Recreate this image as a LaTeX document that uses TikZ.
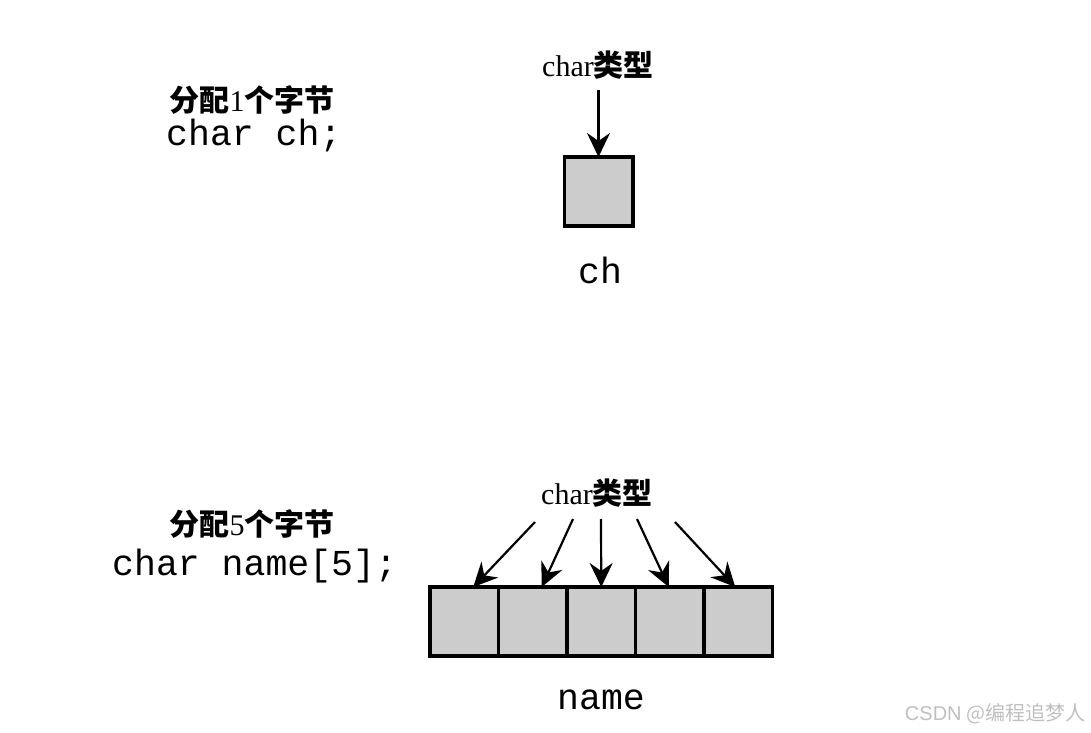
\documentclass[tikz,border=0pt]{standalone}
\usepackage{fontspec}
\usetikzlibrary{arrows.meta}
\setmainfont{Liberation Serif}
\setmonofont{Liberation Mono}
\newfontfamily\cjk{Noto Sans CJK SC}
\newfontfamily\wmfont{Liberation Sans}
\begin{document}
\begin{tikzpicture}[x=1pt,y=-1pt,
  cell/.style={draw=black,line width=3.5pt,fill=black!20,minimum width=68.5pt,minimum height=69pt,inner sep=0pt,outer sep=0pt},
  lbl/.style={font=\fontsize{30}{34}\selectfont,inner sep=0pt},
  desc/.style={font=\cjk\bfseries\fontsize{30}{34}\selectfont,inner sep=0pt},
  code/.style={font=\ttfamily\fontsize{36.5}{40}\selectfont,inner sep=0pt},
  ptr/.style={line width=2.2pt,-{Stealth[length=24pt,width=23pt,inset=8pt]}}]
\useasboundingbox (0,0) rectangle (1091,732);
% top part
\node[lbl] (t1) at (598,65) {char{\cjk\bfseries 类型}};
\node[cell] (ch) at (598.5,191.5) {};
\coordinate (s0) at (598.5,90);
\draw[ptr] (s0) -- (ch.north);
\node[code] (chl) at (600,270) {ch};
\node[desc] (d1) at (252,100) {分配{\rmfamily\mdseries 1}个字节};
\node[code,anchor=west] (c1) at (166,136) {char ch;};
% bottom part
\node[lbl] (t2) at (597,493) {char{\cjk\bfseries 类型}};
\node[cell] (n1) at (464.25,621.5) {};
\node[cell,anchor=west] (n2) at (n1.east) {};
\node[cell,anchor=west] (n3) at (n2.east) {};
\node[cell,anchor=west] (n4) at (n3.east) {};
\node[cell,anchor=west] (n5) at (n4.east) {};
\coordinate (s1) at (535,522);
\coordinate (s2) at (573,519);
\coordinate (s3) at (601,519);
\coordinate (s4) at (637,519);
\coordinate (s5) at (675,522);
\draw[ptr] (s1) -- ([xshift=9pt]n1.north);
\draw[ptr] (s2) -- ([xshift=9pt]n2.north);
\draw[ptr] (s3) -- (n3.north);
\draw[ptr] (s4) -- ([xshift=-1pt]n4.north);
\draw[ptr] (s5) -- ([xshift=-3pt]n5.north);
\node[code] (nl) at (601,700) {name};
\node[desc] (d2) at (252,524) {分配{\rmfamily\mdseries 5}个字节};
\node[code,anchor=west] (c2) at (112,566) {char name[5];};
% watermark
\node[font=\cjk\fontsize{20}{22}\selectfont,text=black!25,inner sep=0pt] (wm) at (995,714) {{\wmfont CSDN} @编程追梦人};
\end{tikzpicture}
\end{document}
